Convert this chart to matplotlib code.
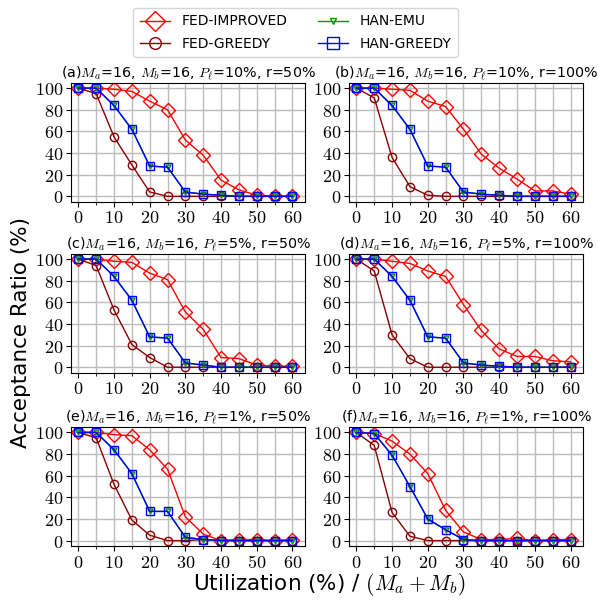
import numpy as np
import matplotlib
matplotlib.use('Agg')
import matplotlib.pyplot as plt
from matplotlib.ticker import MultipleLocator, FuncFormatter

plt.rcParams['mathtext.fontset'] = 'cm'
plt.rcParams['font.family'] = 'DejaVu Sans'

# utilization points
util = [0, 5, 10, 15, 20, 25, 30, 35, 40, 45, 50, 55, 60]

titles = [
    r'(a)$M_a$=16, $M_b$=16, $P_\ell$=10%, r=50%',
    r'(b)$M_a$=16, $M_b$=16, $P_\ell$=10%, r=100%',
    r'(c)$M_a$=16, $M_b$=16, $P_\ell$=5%, r=50%',
    r'(d)$M_a$=16, $M_b$=16, $P_\ell$=5%, r=100%',
    r'(e)$M_a$=16, $M_b$=16, $P_\ell$=1%, r=50%',
    r'(f)$M_a$=16, $M_b$=16, $P_\ell$=1%, r=100%',
]

fed_improved = [
    [100, 100, 99, 97, 88, 80, 52, 38, 15, 6, 1, 0, 0],
    [100, 100, 99, 98, 88, 83, 62, 39, 26, 16, 5, 5, 2],
    [100, 100, 98, 97, 87, 81, 51, 35, 9, 8, 2, 1, 1],
    [100, 100, 98, 96, 89, 84, 58, 34, 17, 10, 10, 6, 5],
    [100, 100, 98, 97, 84, 66, 22, 6, 0, 1, 1, 0, 1],
    [100, 99, 92, 80, 62, 28, 8, 1, 1, 2, 0, 1, 1],
]
fed_greedy = [
    [100, 95, 55, 29, 4, 0, 0, 0, 0, 0, 0, 0, 0],
    [100, 91, 36, 9, 1, 0, 0, 0, 0, 0, 0, 0, 0],
    [100, 94, 53, 21, 9, 0, 0, 0, 0, 0, 0, 0, 0],
    [100, 89, 30, 8, 0, 0, 0, 0, 0, 0, 0, 0, 0],
    [100, 95, 52, 19, 5, 0, 0, 1, 0, 0, 0, 0, 0],
    [100, 88, 26, 4, 0, 0, 0, 0, 0, 0, 0, 0, 0],
]
han_emu = [
    [100, 100, 84, 62, 28, 27, 4, 2, 1, 0, 0, 0, 0],
    [100, 100, 84, 62, 28, 27, 4, 2, 1, 0, 0, 0, 0],
    [100, 100, 84, 62, 28, 27, 4, 2, 0, 0, 0, 0, 0],
    [100, 100, 84, 62, 28, 27, 4, 2, 1, 0, 0, 0, 0],
    [100, 100, 84, 62, 27, 27, 3, 1, 0, 0, 0, 0, 0],
    [100, 99, 79, 50, 20, 10, 1, 0, 0, 0, 0, 0, 0],
]
han_greedy = [
    [100, 100, 84, 62, 28, 27, 4, 2, 1, 0, 0, 0, 0],
    [100, 100, 84, 62, 28, 27, 4, 2, 1, 0, 0, 0, 0],
    [100, 100, 84, 62, 28, 27, 4, 2, 0, 0, 0, 0, 0],
    [100, 100, 84, 62, 28, 27, 4, 2, 1, 0, 0, 0, 0],
    [100, 100, 84, 62, 27, 27, 3, 1, 0, 0, 0, 0, 0],
    [100, 99, 79, 50, 20, 10, 1, 0, 0, 0, 0, 0, 0],
]

fig = plt.figure(figsize=(5.98, 6.04), dpi=100)

lefts = [0.119, 0.584]
width = 0.391
bottoms = [0.666, 0.383, 0.096]
height = 0.197

mathfmt = FuncFormatter(lambda v, p: r'$\mathrm{%d}$' % round(v))

handles = None
for i in range(6):
    r, c = divmod(i, 2)
    ax = fig.add_axes([lefts[c], bottoms[r], width, height])
    l1, = ax.plot(util, fed_improved[i], color='#ff0000', marker='D', ms=7,
                  mfc='none', lw=1, label='FED-IMPROVED')
    l2, = ax.plot(util, fed_greedy[i], color='#8b0000', marker='o', ms=6,
                  mfc='none', lw=1, label='FED-GREEDY')
    l3, = ax.plot(util, han_emu[i], color='#009900', marker='v', ms=3.5,
                  mfc='none', lw=1, label='HAN-EMU')
    l4, = ax.plot(util, han_greedy[i], color='#0000ff', marker='s', ms=6,
                  mfc='none', lw=1, label='HAN-GREEDY')
    handles = [l1, l2, l3, l4]

    ax.set_xlim(-2, 63.5)
    ax.set_ylim(-5, 105)
    ax.xaxis.set_major_locator(MultipleLocator(10))
    ax.xaxis.set_minor_locator(MultipleLocator(5))
    ax.yaxis.set_major_locator(MultipleLocator(20))
    ax.xaxis.set_major_formatter(mathfmt)
    ax.yaxis.set_major_formatter(mathfmt)
    ax.tick_params(labelsize=13, pad=2)
    ax.tick_params(which='minor', length=2)
    ax.grid(True, which='both', color='#bcbcbc', lw=1)
    ax.set_axisbelow(True)
    ax.set_title(titles[i], fontsize=10.3, pad=3)

fig.legend(handles, [h.get_label() for h in handles], loc='upper center',
           bbox_to_anchor=(0.494, 0.998), ncol=2, fontsize=10, columnspacing=2.2,
           handlelength=2.2, markerscale=1.4, borderpad=0.45, labelspacing=0.6)

fig.text(0.035, 0.45, 'Acceptance Ratio (%)', rotation=90, fontsize=15.5,
         ha='center', va='center')
fig.text(0.55, 0.032, r'Utilization (%) / $(M_a + M_b)$', fontsize=15.5,
         ha='center', va='center')

fig.savefig('out.png', dpi=100)
